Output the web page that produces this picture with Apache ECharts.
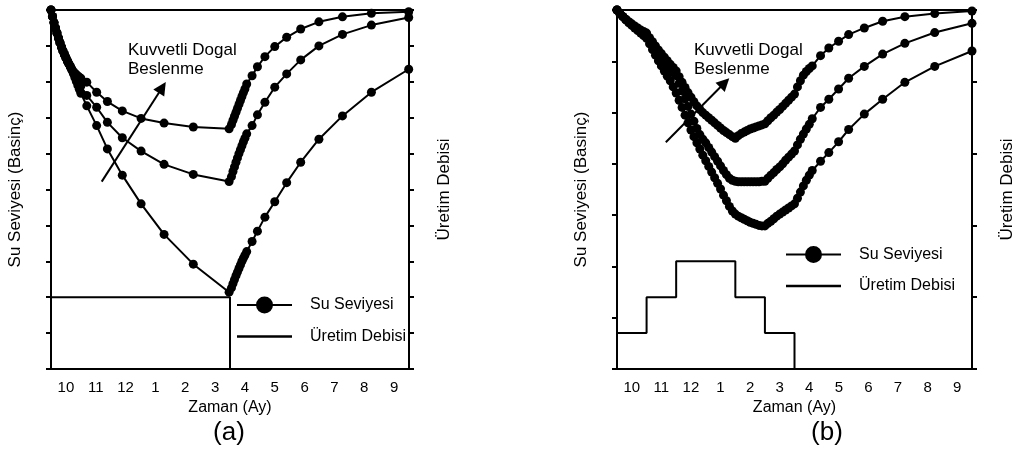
<!DOCTYPE html>
<html><head><meta charset="utf-8">
<script src="https://cdn.jsdelivr.net/npm/echarts@6/dist/echarts.min.js"></script>
<style>html,body{margin:0;padding:0;background:#fff}#c{width:1017px;height:455px}</style>
</head><body><div id="c"></div>
<script>
// x tick labels (months)
const months = ['10','11','12','1','2','3','4','5','6','7','8','9'];

// Panel (a): time in months from start of October
const timeA = [0,0.05,0.1,0.15,0.2,0.25,0.3,0.35,0.4,0.45,0.5,0.55,0.6,0.65,0.7,0.75,0.8,0.85,0.9,0.95,1,
  1.2,1.53,1.89,2.39,3.02,3.79,4.77,5.97,
  6.05,6.1,6.15,6.2,6.25,6.3,6.35,6.4,6.45,6.5,
  6.56,6.74,6.92,7.17,7.5,7.9,8.37,8.98,9.77,10.74,11.99];
const levelA1 = [10,9.82,9.65,9.5,9.36,9.22,9.09,8.97,8.86,8.76,8.67,8.58,8.5,8.42,8.35,8.28,8.24,8.2,8.16,8.13,8.1,
  7.99,7.71,7.45,7.19,6.98,6.85,6.74,6.69,
  6.81,6.93,7.04,7.15,7.26,7.37,7.48,7.59,7.7,7.8,
  7.94,8.17,8.42,8.7,8.98,9.24,9.47,9.67,9.81,9.91,9.95];
const levelA2 = [10,9.82,9.65,9.5,9.36,9.22,9.09,8.97,8.86,8.76,8.67,8.58,8.5,8.42,8.34,8.26,8.18,8.1,8.02,7.95,7.88,
  7.62,7.29,6.87,6.44,6.07,5.7,5.42,5.22,
  5.36,5.5,5.63,5.76,5.88,6.0,6.11,6.22,6.33,6.43,
  6.55,6.78,7.08,7.43,7.85,8.22,8.61,9.0,9.32,9.58,9.79];
const levelA3 = [10,9.82,9.65,9.5,9.36,9.22,9.09,8.97,8.86,8.76,8.67,8.58,8.5,8.42,8.33,8.23,8.12,8.01,7.9,7.79,7.68,
  7.33,6.78,6.13,5.4,4.6,3.75,2.92,2.14,
  2.26,2.38,2.49,2.6,2.7,2.8,2.9,3.0,3.09,3.17,
  3.27,3.55,3.84,4.23,4.66,5.19,5.76,6.4,7.05,7.71,8.35];
// production rate at the start of each month (a)
const rateA = [2,2,2,2,2,2,0];

// Panel (b)
const timeB = [0,0.1,0.2,0.3,0.4,0.5,0.6,0.7,0.8,0.9,1,
  1.1,1.2,1.3,1.4,1.5,1.6,1.7,1.8,1.9,2,
  2.1,2.2,2.3,2.4,2.5,2.6,2.7,2.8,2.9,3,
  3.1,3.2,3.3,3.4,3.5,3.6,3.7,3.8,3.9,4,
  4.1,4.2,4.3,4.4,4.5,4.6,4.7,4.8,4.9,5,
  5.1,5.2,5.3,5.4,5.5,5.6,5.7,5.8,5.9,6,
  6.1,6.2,6.3,6.4,6.5,
  6.6,6.88,7.16,7.49,7.83,8.36,8.98,9.73,10.74,12];
const levelB1 = [7,6.93,6.87,6.82,6.77,6.73,6.69,6.65,6.61,6.58,6.55,
  6.46,6.38,6.3,6.22,6.15,6.08,6.01,5.94,5.88,5.81,
  5.7,5.59,5.49,5.39,5.3,5.21,5.13,5.06,5,4.95,
  4.9,4.85,4.8,4.75,4.7,4.65,4.61,4.57,4.53,4.5,
  4.55,4.59,4.62,4.65,4.68,4.7,4.72,4.74,4.76,4.78,
  4.84,4.9,4.95,5.01,5.06,5.12,5.18,5.24,5.3,5.36,
  5.5,5.62,5.73,5.8,5.86,
  5.91,6.11,6.26,6.39,6.52,6.65,6.78,6.87,6.93,6.98];
const levelB2 = [7,6.93,6.87,6.81,6.76,6.71,6.67,6.63,6.59,6.55,6.52,
  6.43,6.34,6.25,6.17,6.09,6.01,5.93,5.86,5.79,5.72,
  5.57,5.42,5.27,5.12,4.97,4.83,4.69,4.57,4.48,4.41,
  4.32,4.23,4.14,4.05,3.96,3.87,3.79,3.72,3.68,3.66,
  3.65,3.65,3.65,3.65,3.65,3.65,3.65,3.65,3.66,3.66,
  3.72,3.78,3.83,3.89,3.94,4,4.07,4.13,4.19,4.25,
  4.37,4.48,4.58,4.68,4.77,
  4.88,5.1,5.26,5.46,5.67,5.9,6.14,6.35,6.56,6.74];
const levelB3 = [7,6.93,6.87,6.81,6.75,6.7,6.65,6.6,6.55,6.5,6.45,
  6.34,6.23,6.12,6.01,5.91,5.81,5.71,5.62,5.5,5.38,
  5.24,5.1,4.95,4.8,4.66,4.53,4.41,4.29,4.17,4.06,
  3.95,3.84,3.73,3.62,3.51,3.39,3.28,3.17,3.08,3.02,
  2.98,2.95,2.92,2.89,2.86,2.84,2.82,2.8,2.79,2.79,
  2.84,2.88,2.93,2.98,3.02,3.06,3.1,3.14,3.18,3.22,
  3.33,3.45,3.57,3.68,3.78,
  3.87,4.05,4.22,4.43,4.67,4.97,5.26,5.59,5.9,6.2];
const rateB = [0.5,1,1.5,1.5,1,0.5,0];

// annotation arrows (data coords: [month, level])
const arrowA = [[1.70,5.22],[3.73,7.84]];
const arrowB = [[1.65,4.42],[3.64,5.58]];
const annotation = ['Kuvvetli Dogal','Beslenme'];

const FONT = '"Liberation Sans", Arial, sans-serif';
const pairs = (t, v) => t.map((x, i) => [x, v[i]]);
const steps = r => r.map((v, i) => [i, v]);

const axisLine = {onZero:false, lineStyle:{color:'#000', width:2}};
const axisTick = {length:5, lineStyle:{color:'#000', width:2}};

function xAxes(grid) {
  return [
    {type:'value', gridIndex:grid, min:0, max:12, show:false, position:'bottom'},
    {type:'category', gridIndex:grid, data:months, boundaryGap:true, position:'bottom',
     axisLine, axisTick:Object.assign({interval:0}, axisTick),
     axisLabel:{interval:0, margin:11, fontSize:15, color:'#000', fontFamily:FONT},
     name:'Zaman (Ay)', nameLocation:'middle', nameGap:31,
     nameTextStyle:{fontSize:16, color:'#000', fontFamily:FONT}, splitLine:{show:false}},
    {type:'category', gridIndex:grid, data:months, boundaryGap:true, position:'top',
     axisLine, axisTick:Object.assign({interval:0}, axisTick), axisLabel:{show:false}, splitLine:{show:false}}
  ];
}
function yAxis(grid, pos, max, name) {
  return {type:'value', gridIndex:grid, position:pos, min:0, max:max, interval:1,
    axisLine, axisTick, axisLabel:{show:false}, splitLine:{show:false},
    name:name, nameLocation:'middle', nameGap:27, nameRotate:90,
    nameTextStyle:{fontSize:17, color:'#000', fontFamily:FONT}};
}
function water(xi, yi, t, v, extra) {
  return Object.assign({type:'line', name:'Su Seviyesi', xAxisIndex:xi, yAxisIndex:yi,
    data:pairs(t, v), symbol:'circle', symbolSize:9, showSymbol:true, clip:false, silent:true,
    lineStyle:{color:'#000', width:2}, itemStyle:{color:'#000', borderWidth:0},
    emphasis:{disabled:true}, z:3}, extra || {});
}
function arrow(a) {
  return {markLine:{silent:true, animation:false, symbol:['none','triangle'], symbolSize:13,
    label:{show:false}, lineStyle:{color:'#000', width:2, type:'solid'}, emphasis:{disabled:true},
    data:[[{coord:a[0]},{coord:a[1]}]]}};
}
function prod(xi, yi, r) {
  return {type:'line', name:'Üretim Debisi', xAxisIndex:xi, yAxisIndex:yi, data:steps(r), step:'end',
    symbol:'none', clip:false, silent:true, lineStyle:{color:'#000', width:2}, itemStyle:{color:'#000'},
    emphasis:{disabled:true}, z:2};
}
const iconWater = 'path://M0,7.5 H55 V9.5 H0 Z M19,8.5 A8.5,8.5 0 1,1 36,8.5 A8.5,8.5 0 1,1 19,8.5 Z';
const iconProd = 'path://M0,0 H55 V2.5 H0 Z';
function legend(left, top) {
  return {left:left, top:top, orient:'vertical', padding:0, itemWidth:55, itemHeight:17, itemGap:15,
    selectedMode:false, itemStyle:{borderWidth:0},
    textStyle:{fontSize:16, color:'#000', fontFamily:FONT, padding:[0,0,0,13]},
    data:[{name:'Su Seviyesi', icon:iconWater}, {name:'Üretim Debisi', icon:iconProd}]};
}
function txt(x, y, s, size, align) {
  return {type:'text', x:x, y:y, silent:true,
    style:{text:s, fill:'#000', font:size + 'px ' + FONT, align:align || 'left', verticalAlign:'middle'}};
}

const chart = echarts.init(document.getElementById('c'), null, {renderer:'canvas'});
chart.setOption({
  animation:false,
  backgroundColor:'#fff',
  textStyle:{fontFamily:FONT},
  grid:[{left:51, top:10, width:358, height:359}, {left:617, top:10, width:357, height:359}],
  xAxis:[].concat(xAxes(0), xAxes(1)),
  yAxis:[yAxis(0,'left',10,'Su Seviyesi (Basinç)'), yAxis(0,'right',10,'Üretim Debisi'),
         yAxis(1,'left',7,'Su Seviyesi (Basinç)'), yAxis(1,'right',5,'Üretim Debisi')],
  legend:[legend(237, 296.5), legend(786, 246)],
  series:[
    water(0,0,timeA,levelA1, arrow(arrowA)),
    water(0,0,timeA,levelA2),
    water(0,0,timeA,levelA3),
    prod(0,1,rateA),
    water(3,2,timeB,levelB1, arrow(arrowB)),
    water(3,2,timeB,levelB2),
    water(3,2,timeB,levelB3),
    prod(3,3,rateB)
  ],
  graphic:[
    txt(128, 50, annotation[0], 17), txt(128, 69, annotation[1], 17),
    txt(694, 50, annotation[0], 17), txt(694, 69, annotation[1], 17),
    txt(229, 433, '(a)', 26, 'center'), txt(827, 433, '(b)', 26, 'center')
  ]
});
</script></body></html>
